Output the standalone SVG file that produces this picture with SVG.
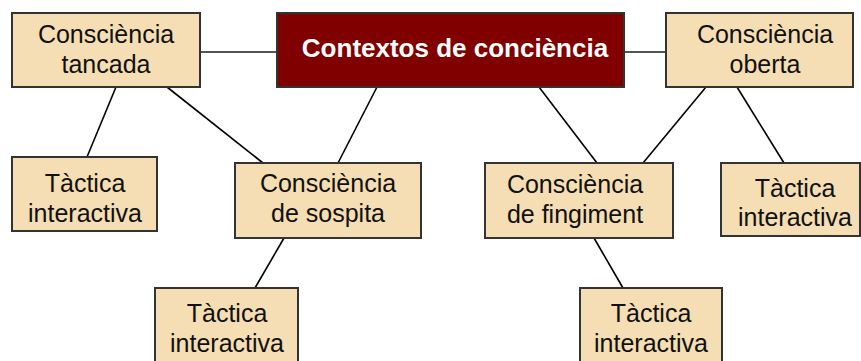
<svg xmlns="http://www.w3.org/2000/svg" width="861" height="361" viewBox="0 0 861 361">
<style>
.n{fill:#f5deb3;stroke:#333;stroke-width:2}
.t{font-family:"Liberation Sans",Arial,sans-serif;font-size:25px;fill:#111;text-anchor:middle}
.h{font-family:"Liberation Sans",Arial,sans-serif;font-size:26px;font-weight:bold;fill:#fff;text-anchor:middle}
.c{stroke:#000;stroke-width:1.6;fill:none}
.g{stroke:#555;stroke-width:2.2;fill:none}
</style>
<rect width="861" height="361" fill="#fff"/>
<g id="connectors">
<line class="g" x1="200" y1="52" x2="277" y2="52"/>
<line class="g" x1="624" y1="52" x2="666" y2="52"/>
<line class="c" x1="116" y1="87" x2="87" y2="157"/>
<line class="c" x1="167" y1="87" x2="263" y2="163"/>
<line class="c" x1="377" y1="87" x2="338" y2="163"/>
<line class="c" x1="539" y1="87" x2="597" y2="163"/>
<line class="c" x1="706" y1="87" x2="643" y2="163"/>
<line class="c" x1="737" y1="87" x2="784" y2="163"/>
<line class="c" x1="284" y1="238" x2="255" y2="288"/>
<line class="c" x1="594" y1="238" x2="623" y2="288"/>
</g>
<g id="n-tancada">
<rect class="n" x="12" y="13" width="188" height="74"/>
<text class="t" x="106" y="43">Consciència</text>
<text class="t" x="106" y="73">tancada</text>
</g>
<g id="n-contextos">
<rect x="277" y="13" width="347" height="74" fill="#800000" stroke="#333" stroke-width="2"/>
<text class="h" x="455" y="57">Contextos de conciència</text>
</g>
<g id="n-oberta">
<rect class="n" x="666" y="13" width="187" height="74"/>
<text class="t" x="765" y="43">Consciència</text>
<text class="t" x="765" y="73">oberta</text>
</g>
<g id="n-tactica1">
<rect class="n" x="12" y="157" width="145" height="74"/>
<text class="t" x="85" y="192">Tàctica</text>
<text class="t" x="85" y="222">interactiva</text>
</g>
<g id="n-sospita">
<rect class="n" x="235" y="163" width="186" height="75"/>
<text class="t" x="328" y="192">Consciència</text>
<text class="t" x="328" y="222">de sospita</text>
</g>
<g id="n-fingiment">
<rect class="n" x="485" y="163" width="188" height="75"/>
<text class="t" x="575" y="193">Consciència</text>
<text class="t" x="575" y="223">de fingiment</text>
</g>
<g id="n-tactica2">
<rect class="n" x="721" y="163" width="139" height="73"/>
<text class="t" x="795" y="197">Tàctica</text>
<text class="t" x="795" y="226">interactiva</text>
</g>
<g id="n-tactica3">
<rect class="n" x="155" y="288" width="143" height="80"/>
<text class="t" x="227" y="322">Tàctica</text>
<text class="t" x="227" y="352">interactiva</text>
</g>
<g id="n-tactica4">
<rect class="n" x="580" y="288" width="142" height="80"/>
<text class="t" x="651" y="322">Tàctica</text>
<text class="t" x="651" y="352">interactiva</text>
</g>
</svg>
